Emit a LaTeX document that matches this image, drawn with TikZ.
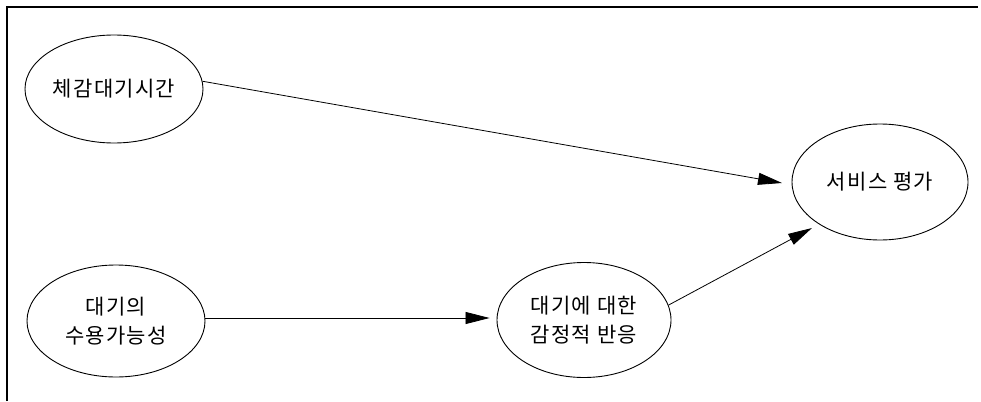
\documentclass[tikz,border=0pt]{standalone}
\usepackage{fontspec}
\newfontfamily\kr[LetterSpace=6]{Noto Sans CJK KR}
\usetikzlibrary{shapes.geometric,arrows.meta,calc}
\begin{document}
\begin{tikzpicture}[x=1pt,y=-1pt,
  bubble/.style={ellipse,draw,line width=0.9pt,inner sep=0pt,font=\kr\fontsize{21}{29}\selectfont,align=center},
  conn/.style={line width=0.8pt,-{Triangle[length=24pt,width=12pt]}}]
\useasboundingbox (0,0) rectangle (981,401);
\draw[line width=1.2pt] (7,401) -- (7,7) -- (978,7);
\node[bubble,minimum width=178pt,minimum height=108pt] (a) at (114,89) {체감대기시간};
\node[bubble,minimum width=178pt,minimum height=112pt] (b) at (116,321) {대기의\\수용가능성};
\node[bubble,minimum width=174pt,minimum height=115pt] (c) at (584,320) {대기에 대한\\감정적 반응};
\node[bubble,minimum width=176pt,minimum height=116pt] (d) at (880,182) {서비스 평가};
\coordinate (dl) at ($(d.center)+(-98,1)$);
\coordinate (dll) at ($(d.center)+(-68,46)$);
\coordinate (cw) at ($(c.west)+(-7,-2)$);
\coordinate (be) at ($(b.east)+(0,-3)$);
\draw[conn] (a.5) -- (dl);
\draw[conn] (be) -- (cw);
\draw[conn] (c.10) -- (dll);
\end{tikzpicture}
\end{document}
